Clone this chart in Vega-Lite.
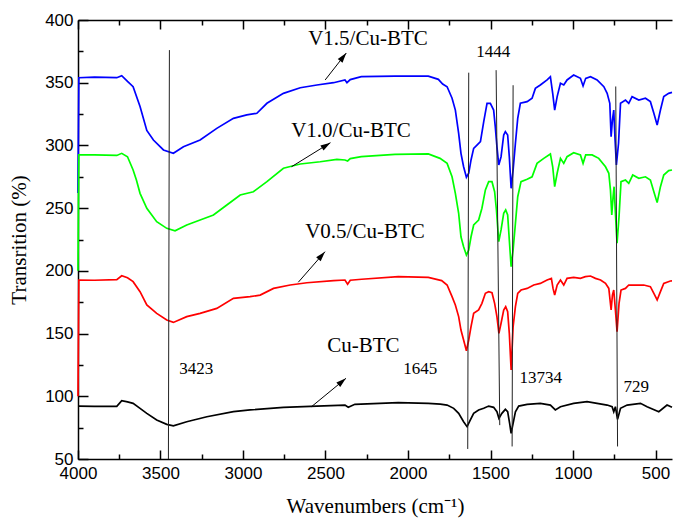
{
"$schema": "https://vega.github.io/schema/vega-lite/v6.json",
"width": 594, "height": 439,
"autosize": "none",
"padding": {"left": 78, "top": 20, "right": 1, "bottom": 63},
"background": "white",
"config": {
  "view": {"stroke": null},
  "axis": {"labelFont": "Liberation Sans", "labelFontSize": 17, "labelColor": "black", "labelFlush": false, "labelOverlap": false, "format": "d", "titleFont": "Liberation Serif", "titleFontSize": 21, "titleFontWeight": "normal", "titleColor": "black", "domainColor": "black", "domainWidth": 1.5, "tickColor": "black", "tickWidth": 1.5, "grid": false}
},
"datasets": {
  "spectra": [
    {"s":"V1.5/Cu-BTC","x":4000,"y":262},{"s":"V1.5/Cu-BTC","x":3995,"y":354},{"s":"V1.5/Cu-BTC","x":3900,"y":354.5},{"s":"V1.5/Cu-BTC","x":3765,"y":354},{"s":"V1.5/Cu-BTC","x":3735,"y":355.6},{"s":"V1.5/Cu-BTC","x":3700,"y":351},{"s":"V1.5/Cu-BTC","x":3666,"y":346.8},{"s":"V1.5/Cu-BTC","x":3624,"y":331},{"s":"V1.5/Cu-BTC","x":3583,"y":312},{"s":"V1.5/Cu-BTC","x":3543,"y":304.3},{"s":"V1.5/Cu-BTC","x":3482,"y":296.4},{"s":"V1.5/Cu-BTC","x":3422,"y":293.7},{"s":"V1.5/Cu-BTC","x":3361,"y":299},{"s":"V1.5/Cu-BTC","x":3260,"y":304.3},{"s":"V1.5/Cu-BTC","x":3159,"y":313.6},{"s":"V1.5/Cu-BTC","x":3058,"y":321.6},{"s":"V1.5/Cu-BTC","x":2977,"y":324.3},{"s":"V1.5/Cu-BTC","x":2916,"y":325.6},{"s":"V1.5/Cu-BTC","x":2855,"y":333.6},{"s":"V1.5/Cu-BTC","x":2755,"y":341.5},{"s":"V1.5/Cu-BTC","x":2653,"y":346},{"s":"V1.5/Cu-BTC","x":2552,"y":348.2},{"s":"V1.5/Cu-BTC","x":2451,"y":350},{"s":"V1.5/Cu-BTC","x":2382,"y":352.2},{"s":"V1.5/Cu-BTC","x":2370,"y":350},{"s":"V1.5/Cu-BTC","x":2350,"y":352.5},{"s":"V1.5/Cu-BTC","x":2283,"y":354.8},{"s":"V1.5/Cu-BTC","x":2079,"y":355.3},{"s":"V1.5/Cu-BTC","x":1877,"y":355.3},{"s":"V1.5/Cu-BTC","x":1816,"y":352.7},{"s":"V1.5/Cu-BTC","x":1790,"y":349},{"s":"V1.5/Cu-BTC","x":1763,"y":346.8},{"s":"V1.5/Cu-BTC","x":1733,"y":337.6},{"s":"V1.5/Cu-BTC","x":1713,"y":328.2},{"s":"V1.5/Cu-BTC","x":1693,"y":309.6},{"s":"V1.5/Cu-BTC","x":1679,"y":293.7},{"s":"V1.5/Cu-BTC","x":1663,"y":283},{"s":"V1.5/Cu-BTC","x":1646,"y":274.6},{"s":"V1.5/Cu-BTC","x":1632,"y":277.8},{"s":"V1.5/Cu-BTC","x":1618,"y":288.4},{"s":"V1.5/Cu-BTC","x":1602,"y":297.7},{"s":"V1.5/Cu-BTC","x":1582,"y":300.3},{"s":"V1.5/Cu-BTC","x":1561,"y":303},{"s":"V1.5/Cu-BTC","x":1541,"y":319},{"s":"V1.5/Cu-BTC","x":1521,"y":333.6},{"s":"V1.5/Cu-BTC","x":1501,"y":333.6},{"s":"V1.5/Cu-BTC","x":1481,"y":328.2},{"s":"V1.5/Cu-BTC","x":1471,"y":315},{"s":"V1.5/Cu-BTC","x":1461,"y":299},{"s":"V1.5/Cu-BTC","x":1450,"y":284.4},{"s":"V1.5/Cu-BTC","x":1436,"y":291},{"s":"V1.5/Cu-BTC","x":1420,"y":308.3},{"s":"V1.5/Cu-BTC","x":1410,"y":311},{"s":"V1.5/Cu-BTC","x":1396,"y":308.3},{"s":"V1.5/Cu-BTC","x":1386,"y":291},{"s":"V1.5/Cu-BTC","x":1375,"y":265.8},{"s":"V1.5/Cu-BTC","x":1363,"y":280.4},{"s":"V1.5/Cu-BTC","x":1349,"y":301.7},{"s":"V1.5/Cu-BTC","x":1335,"y":321.6},{"s":"V1.5/Cu-BTC","x":1319,"y":333.6},{"s":"V1.5/Cu-BTC","x":1278,"y":334.9},{"s":"V1.5/Cu-BTC","x":1248,"y":337.6},{"s":"V1.5/Cu-BTC","x":1228,"y":345.5},{"s":"V1.5/Cu-BTC","x":1198,"y":348.2},{"s":"V1.5/Cu-BTC","x":1157,"y":352.2},{"s":"V1.5/Cu-BTC","x":1137,"y":354.8},{"s":"V1.5/Cu-BTC","x":1123,"y":341.5},{"s":"V1.5/Cu-BTC","x":1111,"y":328.2},{"s":"V1.5/Cu-BTC","x":1096,"y":338.9},{"s":"V1.5/Cu-BTC","x":1076,"y":349.5},{"s":"V1.5/Cu-BTC","x":1056,"y":348.2},{"s":"V1.5/Cu-BTC","x":1036,"y":352.2},{"s":"V1.5/Cu-BTC","x":996,"y":356.1},{"s":"V1.5/Cu-BTC","x":955,"y":353.5},{"s":"V1.5/Cu-BTC","x":939,"y":347.4},{"s":"V1.5/Cu-BTC","x":923,"y":353.5},{"s":"V1.5/Cu-BTC","x":894,"y":354.8},{"s":"V1.5/Cu-BTC","x":854,"y":352.2},{"s":"V1.5/Cu-BTC","x":813,"y":346.8},{"s":"V1.5/Cu-BTC","x":793,"y":341.5},{"s":"V1.5/Cu-BTC","x":777,"y":333.6},{"s":"V1.5/Cu-BTC","x":769,"y":307},{"s":"V1.5/Cu-BTC","x":761,"y":320.3},{"s":"V1.5/Cu-BTC","x":753,"y":328.2},{"s":"V1.5/Cu-BTC","x":745,"y":304.3},{"s":"V1.5/Cu-BTC","x":737,"y":284.4},{"s":"V1.5/Cu-BTC","x":724,"y":301.7},{"s":"V1.5/Cu-BTC","x":712,"y":333.6},{"s":"V1.5/Cu-BTC","x":682,"y":336.2},{"s":"V1.5/Cu-BTC","x":662,"y":333.6},{"s":"V1.5/Cu-BTC","x":642,"y":338.9},{"s":"V1.5/Cu-BTC","x":601,"y":336.2},{"s":"V1.5/Cu-BTC","x":561,"y":337.6},{"s":"V1.5/Cu-BTC","x":531,"y":334.9},{"s":"V1.5/Cu-BTC","x":510,"y":325.6},{"s":"V1.5/Cu-BTC","x":490,"y":316.3},{"s":"V1.5/Cu-BTC","x":470,"y":328.2},{"s":"V1.5/Cu-BTC","x":450,"y":338.9},{"s":"V1.5/Cu-BTC","x":420,"y":341.5},{"s":"V1.5/Cu-BTC","x":400,"y":342.3},
    {"s":"V1.0/Cu-BTC","x":4000,"y":200},{"s":"V1.0/Cu-BTC","x":3995,"y":292.4},{"s":"V1.0/Cu-BTC","x":3900,"y":292.5},{"s":"V1.0/Cu-BTC","x":3765,"y":292},{"s":"V1.0/Cu-BTC","x":3735,"y":293.7},{"s":"V1.0/Cu-BTC","x":3700,"y":291},{"s":"V1.0/Cu-BTC","x":3666,"y":280.4},{"s":"V1.0/Cu-BTC","x":3646,"y":272.4},{"s":"V1.0/Cu-BTC","x":3624,"y":261.8},{"s":"V1.0/Cu-BTC","x":3583,"y":249.9},{"s":"V1.0/Cu-BTC","x":3523,"y":239.2},{"s":"V1.0/Cu-BTC","x":3462,"y":233.9},{"s":"V1.0/Cu-BTC","x":3412,"y":232},{"s":"V1.0/Cu-BTC","x":3341,"y":236.6},{"s":"V1.0/Cu-BTC","x":3260,"y":240.5},{"s":"V1.0/Cu-BTC","x":3179,"y":244.5},{"s":"V1.0/Cu-BTC","x":3098,"y":252.5},{"s":"V1.0/Cu-BTC","x":3017,"y":260.5},{"s":"V1.0/Cu-BTC","x":2937,"y":263.1},{"s":"V1.0/Cu-BTC","x":2855,"y":271.1},{"s":"V1.0/Cu-BTC","x":2755,"y":281.8},{"s":"V1.0/Cu-BTC","x":2653,"y":285.2},{"s":"V1.0/Cu-BTC","x":2532,"y":287},{"s":"V1.0/Cu-BTC","x":2431,"y":288.9},{"s":"V1.0/Cu-BTC","x":2382,"y":288.4},{"s":"V1.0/Cu-BTC","x":2366,"y":287.6},{"s":"V1.0/Cu-BTC","x":2350,"y":289.5},{"s":"V1.0/Cu-BTC","x":2283,"y":291},{"s":"V1.0/Cu-BTC","x":2079,"y":292.9},{"s":"V1.0/Cu-BTC","x":1877,"y":293.2},{"s":"V1.0/Cu-BTC","x":1806,"y":289.7},{"s":"V1.0/Cu-BTC","x":1763,"y":285.7},{"s":"V1.0/Cu-BTC","x":1733,"y":275},{"s":"V1.0/Cu-BTC","x":1713,"y":261.8},{"s":"V1.0/Cu-BTC","x":1693,"y":245.9},{"s":"V1.0/Cu-BTC","x":1679,"y":227.2},{"s":"V1.0/Cu-BTC","x":1663,"y":219.3},{"s":"V1.0/Cu-BTC","x":1646,"y":212.6},{"s":"V1.0/Cu-BTC","x":1632,"y":216.6},{"s":"V1.0/Cu-BTC","x":1618,"y":227.2},{"s":"V1.0/Cu-BTC","x":1602,"y":236.6},{"s":"V1.0/Cu-BTC","x":1572,"y":240.5},{"s":"V1.0/Cu-BTC","x":1552,"y":249.9},{"s":"V1.0/Cu-BTC","x":1531,"y":264.5},{"s":"V1.0/Cu-BTC","x":1511,"y":271.1},{"s":"V1.0/Cu-BTC","x":1491,"y":271.1},{"s":"V1.0/Cu-BTC","x":1475,"y":263.1},{"s":"V1.0/Cu-BTC","x":1464,"y":248.5},{"s":"V1.0/Cu-BTC","x":1450,"y":223.3},{"s":"V1.0/Cu-BTC","x":1436,"y":232.6},{"s":"V1.0/Cu-BTC","x":1420,"y":245.9},{"s":"V1.0/Cu-BTC","x":1408,"y":248.5},{"s":"V1.0/Cu-BTC","x":1396,"y":244.5},{"s":"V1.0/Cu-BTC","x":1386,"y":224.6},{"s":"V1.0/Cu-BTC","x":1375,"y":203.3},{"s":"V1.0/Cu-BTC","x":1363,"y":216.6},{"s":"V1.0/Cu-BTC","x":1349,"y":237.9},{"s":"V1.0/Cu-BTC","x":1335,"y":259.1},{"s":"V1.0/Cu-BTC","x":1315,"y":271.1},{"s":"V1.0/Cu-BTC","x":1278,"y":273},{"s":"V1.0/Cu-BTC","x":1248,"y":275},{"s":"V1.0/Cu-BTC","x":1218,"y":285.7},{"s":"V1.0/Cu-BTC","x":1177,"y":289.7},{"s":"V1.0/Cu-BTC","x":1137,"y":293.2},{"s":"V1.0/Cu-BTC","x":1123,"y":283},{"s":"V1.0/Cu-BTC","x":1111,"y":267.1},{"s":"V1.0/Cu-BTC","x":1096,"y":277.8},{"s":"V1.0/Cu-BTC","x":1076,"y":289.7},{"s":"V1.0/Cu-BTC","x":1056,"y":285.7},{"s":"V1.0/Cu-BTC","x":1036,"y":291},{"s":"V1.0/Cu-BTC","x":996,"y":294.2},{"s":"V1.0/Cu-BTC","x":955,"y":292.4},{"s":"V1.0/Cu-BTC","x":939,"y":285.7},{"s":"V1.0/Cu-BTC","x":923,"y":292.4},{"s":"V1.0/Cu-BTC","x":884,"y":292.4},{"s":"V1.0/Cu-BTC","x":844,"y":289.7},{"s":"V1.0/Cu-BTC","x":803,"y":283},{"s":"V1.0/Cu-BTC","x":783,"y":277.8},{"s":"V1.0/Cu-BTC","x":773,"y":264.5},{"s":"V1.0/Cu-BTC","x":765,"y":244.5},{"s":"V1.0/Cu-BTC","x":757,"y":259.1},{"s":"V1.0/Cu-BTC","x":751,"y":267.1},{"s":"V1.0/Cu-BTC","x":743,"y":245.9},{"s":"V1.0/Cu-BTC","x":733,"y":222},{"s":"V1.0/Cu-BTC","x":721,"y":243.2},{"s":"V1.0/Cu-BTC","x":709,"y":271.1},{"s":"V1.0/Cu-BTC","x":682,"y":272.4},{"s":"V1.0/Cu-BTC","x":662,"y":269.8},{"s":"V1.0/Cu-BTC","x":638,"y":276.4},{"s":"V1.0/Cu-BTC","x":601,"y":273.8},{"s":"V1.0/Cu-BTC","x":561,"y":275},{"s":"V1.0/Cu-BTC","x":531,"y":272.4},{"s":"V1.0/Cu-BTC","x":510,"y":263.1},{"s":"V1.0/Cu-BTC","x":490,"y":254.4},{"s":"V1.0/Cu-BTC","x":470,"y":267.1},{"s":"V1.0/Cu-BTC","x":450,"y":276.4},{"s":"V1.0/Cu-BTC","x":420,"y":279.9},{"s":"V1.0/Cu-BTC","x":400,"y":280.4},
    {"s":"V0.5/Cu-BTC","x":4000,"y":100},{"s":"V0.5/Cu-BTC","x":3995,"y":192.7},{"s":"V0.5/Cu-BTC","x":3900,"y":192.5},{"s":"V0.5/Cu-BTC","x":3765,"y":193},{"s":"V0.5/Cu-BTC","x":3735,"y":196.1},{"s":"V0.5/Cu-BTC","x":3700,"y":194.5},{"s":"V0.5/Cu-BTC","x":3666,"y":191.4},{"s":"V0.5/Cu-BTC","x":3624,"y":183.4},{"s":"V0.5/Cu-BTC","x":3583,"y":172.8},{"s":"V0.5/Cu-BTC","x":3523,"y":166.1},{"s":"V0.5/Cu-BTC","x":3462,"y":160.8},{"s":"V0.5/Cu-BTC","x":3422,"y":158.9},{"s":"V0.5/Cu-BTC","x":3341,"y":163.5},{"s":"V0.5/Cu-BTC","x":3260,"y":166.1},{"s":"V0.5/Cu-BTC","x":3159,"y":170.1},{"s":"V0.5/Cu-BTC","x":3058,"y":178.1},{"s":"V0.5/Cu-BTC","x":2957,"y":179.4},{"s":"V0.5/Cu-BTC","x":2896,"y":180.7},{"s":"V0.5/Cu-BTC","x":2815,"y":186},{"s":"V0.5/Cu-BTC","x":2714,"y":188.7},{"s":"V0.5/Cu-BTC","x":2613,"y":190.5},{"s":"V0.5/Cu-BTC","x":2451,"y":192.2},{"s":"V0.5/Cu-BTC","x":2382,"y":192.7},{"s":"V0.5/Cu-BTC","x":2366,"y":189.3},{"s":"V0.5/Cu-BTC","x":2350,"y":192.5},{"s":"V0.5/Cu-BTC","x":2281,"y":193.3},{"s":"V0.5/Cu-BTC","x":2059,"y":195.4},{"s":"V0.5/Cu-BTC","x":1877,"y":194.8},{"s":"V0.5/Cu-BTC","x":1796,"y":192.2},{"s":"V0.5/Cu-BTC","x":1763,"y":188.7},{"s":"V0.5/Cu-BTC","x":1733,"y":179.4},{"s":"V0.5/Cu-BTC","x":1713,"y":172.8},{"s":"V0.5/Cu-BTC","x":1693,"y":163.5},{"s":"V0.5/Cu-BTC","x":1679,"y":152.8},{"s":"V0.5/Cu-BTC","x":1663,"y":144.9},{"s":"V0.5/Cu-BTC","x":1646,"y":136.3},{"s":"V0.5/Cu-BTC","x":1632,"y":144.9},{"s":"V0.5/Cu-BTC","x":1618,"y":155.5},{"s":"V0.5/Cu-BTC","x":1602,"y":166.1},{"s":"V0.5/Cu-BTC","x":1572,"y":168.8},{"s":"V0.5/Cu-BTC","x":1552,"y":174.1},{"s":"V0.5/Cu-BTC","x":1531,"y":182.1},{"s":"V0.5/Cu-BTC","x":1511,"y":183.4},{"s":"V0.5/Cu-BTC","x":1491,"y":182.6},{"s":"V0.5/Cu-BTC","x":1475,"y":174.1},{"s":"V0.5/Cu-BTC","x":1461,"y":163.5},{"s":"V0.5/Cu-BTC","x":1449,"y":150.2},{"s":"V0.5/Cu-BTC","x":1436,"y":158.2},{"s":"V0.5/Cu-BTC","x":1420,"y":168.8},{"s":"V0.5/Cu-BTC","x":1408,"y":171.4},{"s":"V0.5/Cu-BTC","x":1396,"y":167.4},{"s":"V0.5/Cu-BTC","x":1386,"y":150.2},{"s":"V0.5/Cu-BTC","x":1375,"y":121},{"s":"V0.5/Cu-BTC","x":1363,"y":155.5},{"s":"V0.5/Cu-BTC","x":1349,"y":171.4},{"s":"V0.5/Cu-BTC","x":1335,"y":182.1},{"s":"V0.5/Cu-BTC","x":1315,"y":184.7},{"s":"V0.5/Cu-BTC","x":1278,"y":186},{"s":"V0.5/Cu-BTC","x":1238,"y":188.7},{"s":"V0.5/Cu-BTC","x":1198,"y":190},{"s":"V0.5/Cu-BTC","x":1157,"y":192.7},{"s":"V0.5/Cu-BTC","x":1131,"y":194},{"s":"V0.5/Cu-BTC","x":1121,"y":186},{"s":"V0.5/Cu-BTC","x":1111,"y":180.7},{"s":"V0.5/Cu-BTC","x":1096,"y":188.7},{"s":"V0.5/Cu-BTC","x":1076,"y":192.7},{"s":"V0.5/Cu-BTC","x":1056,"y":188.7},{"s":"V0.5/Cu-BTC","x":1036,"y":194},{"s":"V0.5/Cu-BTC","x":996,"y":194.8},{"s":"V0.5/Cu-BTC","x":955,"y":194},{"s":"V0.5/Cu-BTC","x":925,"y":195.4},{"s":"V0.5/Cu-BTC","x":894,"y":195.9},{"s":"V0.5/Cu-BTC","x":864,"y":194},{"s":"V0.5/Cu-BTC","x":833,"y":192.7},{"s":"V0.5/Cu-BTC","x":803,"y":190},{"s":"V0.5/Cu-BTC","x":783,"y":186},{"s":"V0.5/Cu-BTC","x":769,"y":168.8},{"s":"V0.5/Cu-BTC","x":761,"y":180.7},{"s":"V0.5/Cu-BTC","x":753,"y":184.7},{"s":"V0.5/Cu-BTC","x":743,"y":168.8},{"s":"V0.5/Cu-BTC","x":733,"y":151.5},{"s":"V0.5/Cu-BTC","x":721,"y":174.1},{"s":"V0.5/Cu-BTC","x":709,"y":184.7},{"s":"V0.5/Cu-BTC","x":682,"y":186},{"s":"V0.5/Cu-BTC","x":662,"y":188.7},{"s":"V0.5/Cu-BTC","x":632,"y":188.7},{"s":"V0.5/Cu-BTC","x":571,"y":188.7},{"s":"V0.5/Cu-BTC","x":531,"y":187.4},{"s":"V0.5/Cu-BTC","x":510,"y":182.1},{"s":"V0.5/Cu-BTC","x":490,"y":176.8},{"s":"V0.5/Cu-BTC","x":470,"y":183.4},{"s":"V0.5/Cu-BTC","x":450,"y":190},{"s":"V0.5/Cu-BTC","x":410,"y":191.9},{"s":"V0.5/Cu-BTC","x":400,"y":192},
    {"s":"Cu-BTC","x":4000,"y":92.2},{"s":"Cu-BTC","x":3900,"y":92},{"s":"Cu-BTC","x":3765,"y":92},{"s":"Cu-BTC","x":3735,"y":96.5},{"s":"Cu-BTC","x":3700,"y":95.5},{"s":"Cu-BTC","x":3666,"y":94.4},{"s":"Cu-BTC","x":3624,"y":90.4},{"s":"Cu-BTC","x":3583,"y":86.4},{"s":"Cu-BTC","x":3523,"y":81.1},{"s":"Cu-BTC","x":3462,"y":77.6},{"s":"Cu-BTC","x":3422,"y":76.5},{"s":"Cu-BTC","x":3341,"y":79.7},{"s":"Cu-BTC","x":3219,"y":83.7},{"s":"Cu-BTC","x":3058,"y":87.7},{"s":"Cu-BTC","x":2957,"y":89.1},{"s":"Cu-BTC","x":2755,"y":91.2},{"s":"Cu-BTC","x":2552,"y":92.2},{"s":"Cu-BTC","x":2382,"y":93},{"s":"Cu-BTC","x":2362,"y":91.2},{"s":"Cu-BTC","x":2322,"y":93.6},{"s":"Cu-BTC","x":2059,"y":94.9},{"s":"Cu-BTC","x":1877,"y":94.4},{"s":"Cu-BTC","x":1804,"y":93.8},{"s":"Cu-BTC","x":1763,"y":93},{"s":"Cu-BTC","x":1723,"y":90.4},{"s":"Cu-BTC","x":1693,"y":86.4},{"s":"Cu-BTC","x":1663,"y":79.7},{"s":"Cu-BTC","x":1642,"y":75.8},{"s":"Cu-BTC","x":1622,"y":81.1},{"s":"Cu-BTC","x":1602,"y":86.4},{"s":"Cu-BTC","x":1572,"y":89.1},{"s":"Cu-BTC","x":1541,"y":90.4},{"s":"Cu-BTC","x":1511,"y":92.2},{"s":"Cu-BTC","x":1481,"y":91.2},{"s":"Cu-BTC","x":1461,"y":87.7},{"s":"Cu-BTC","x":1449,"y":82.4},{"s":"Cu-BTC","x":1431,"y":86.4},{"s":"Cu-BTC","x":1410,"y":89.6},{"s":"Cu-BTC","x":1396,"y":87.7},{"s":"Cu-BTC","x":1384,"y":78.4},{"s":"Cu-BTC","x":1375,"y":70.4},{"s":"Cu-BTC","x":1363,"y":78.4},{"s":"Cu-BTC","x":1349,"y":87.7},{"s":"Cu-BTC","x":1329,"y":92.2},{"s":"Cu-BTC","x":1278,"y":93.6},{"s":"Cu-BTC","x":1198,"y":94.4},{"s":"Cu-BTC","x":1137,"y":93},{"s":"Cu-BTC","x":1107,"y":89.1},{"s":"Cu-BTC","x":1076,"y":91.7},{"s":"Cu-BTC","x":996,"y":94.4},{"s":"Cu-BTC","x":915,"y":95.7},{"s":"Cu-BTC","x":854,"y":94.4},{"s":"Cu-BTC","x":793,"y":93},{"s":"Cu-BTC","x":763,"y":91.7},{"s":"Cu-BTC","x":753,"y":87.7},{"s":"Cu-BTC","x":743,"y":91.7},{"s":"Cu-BTC","x":730,"y":81.6},{"s":"Cu-BTC","x":712,"y":90.4},{"s":"Cu-BTC","x":672,"y":93},{"s":"Cu-BTC","x":591,"y":94.4},{"s":"Cu-BTC","x":551,"y":91.7},{"s":"Cu-BTC","x":480,"y":87.7},{"s":"Cu-BTC","x":430,"y":93},{"s":"Cu-BTC","x":400,"y":91.2}
  ],
  "refs": [
    {"x":3446,"y":376,"x2":3452,"y2":50},
    {"x":1632,"y":358,"x2":1638,"y2":58},
    {"x":1466,"y":360,"x2":1444,"y2":77},
    {"x":1363,"y":348,"x2":1369,"y2":60},
    {"x":741,"y":347,"x2":730,"y2":60}
  ],
  "arrows": [
    {"name":"V1.5","x":2502,"y":352.2,"xe":2374,"ye":373.7},
    {"name":"V1.0","x":2706,"y":283,"xe":2470,"ye":302.2},
    {"name":"V0.5","x":2665,"y":190.9,"xe":2503,"ye":215.3},
    {"name":"Cu","x":2585,"y":91.7,"xe":2376,"ye":114.3}
  ],
  "labels": [
    {"t":"V1.5/Cu-BTC","x":2605,"y":380},
    {"t":"V1.0/Cu-BTC","x":2708,"y":306.7},
    {"t":"V0.5/Cu-BTC","x":2623,"y":226.2},
    {"t":"Cu-BTC","x":2490,"y":135.3}
  ],
  "nums": [
    {"t":"1444","x":1586,"y":370.5},
    {"t":"3423","x":3387,"y":117.8},
    {"t":"1645","x":2029,"y":117.8},
    {"t":"13734","x":1325,"y":110.6},
    {"t":"729","x":694,"y":103.4}
  ]
},
"layer": [
  {
    "data": {"name": "spectra"},
    "mark": {"type": "line", "strokeWidth": 1.7},
    "encoding": {
      "x": {"field": "x", "type": "quantitative", "scale": {"domain": [400, 4000], "reverse": true, "nice": false, "zero": false},
            "axis": {"orient": "bottom", "values": [4000,3500,3000,2500,2000,1500,1000,500], "tickSize": -9, "labelPadding": 15, "title": "Wavenumbers (cm⁻¹)", "titlePadding": 14}},
      "y": {"field": "y", "type": "quantitative", "scale": {"domain": [50, 400], "nice": false, "zero": false},
            "axis": {"orient": "left", "values": [50,100,150,200,250,300,350,400], "tickSize": -10, "labelPadding": 15, "title": "Transrition (%)", "titlePadding": 15}},
      "color": {"field": "s", "type": "nominal", "legend": null,
                "scale": {"domain": ["Cu-BTC","V0.5/Cu-BTC","V1.0/Cu-BTC","V1.5/Cu-BTC"], "range": ["#000000","#ff0000","#00ff00","#0000ff"]}}
    }
  },
  {
    "data": {"name": "refs"},
    "mark": {"type": "rule", "color": "#222222", "strokeWidth": 1},
    "encoding": {
      "x": {"field": "x", "type": "quantitative", "axis": {"orient": "bottom", "values": [3750,3250,2750,2250,1750,1250,750], "tickSize": -5, "labels": false, "domain": false, "title": null}},
      "x2": {"field": "x2"},
      "y": {"field": "y", "type": "quantitative", "axis": {"orient": "left", "values": [75,125,175,225,275,325,375], "tickSize": -5, "labels": false, "domain": false, "title": null}},
      "y2": {"field": "y2"}
    }
  },
  {
    "data": {"name": "arrows"},
    "mark": {"type": "rule", "color": "black", "strokeWidth": 1},
    "encoding": {
      "x": {"field": "x", "type": "quantitative", "axis": {"orient": "top", "values": [4000,3500,3000,2500,2000,1500,1000,500], "tickSize": -9, "labels": false, "domain": true, "title": null}},
      "x2": {"field": "xe"},
      "y": {"field": "y", "type": "quantitative", "axis": null},
      "y2": {"field": "ye"}
    }
  },
  {
    "data": {"name": "labels"},
    "mark": {"type": "text", "font": "Liberation Serif", "fontSize": 21, "align": "left", "baseline": "alphabetic", "color": "black"},
    "encoding": {
      "x": {"field": "x", "type": "quantitative", "axis": {"orient": "top", "values": [3750,3250,2750,2250,1750,1250,750], "tickSize": -5, "labels": false, "domain": false, "title": null}},
      "y": {"field": "y", "type": "quantitative", "axis": null},
      "text": {"field": "t"}
    }
  },
  {
    "data": {"name": "nums"},
    "mark": {"type": "text", "font": "Liberation Serif", "fontSize": 17, "align": "left", "baseline": "alphabetic", "color": "black"},
    "encoding": {
      "x": {"field": "x", "type": "quantitative", "axis": null},
      "y": {"field": "y", "type": "quantitative", "axis": null},
      "text": {"field": "t"}
    }
  },
  {
    "data": {"name": "arrows"},
    "transform": [{"filter": "datum.name == 'V1.5'"}],
    "mark": {"type": "point", "shape": "M0,0L-0.3,1L0.3,1Z", "size": 400, "filled": true, "color": "black", "opacity": 1, "angle": 38},
    "encoding": {"x": {"field": "xe", "type": "quantitative", "axis": null}, "y": {"field": "ye", "type": "quantitative", "axis": null}}
  },
  {
    "data": {"name": "arrows"},
    "transform": [{"filter": "datum.name == 'V1.0'"}],
    "mark": {"type": "point", "shape": "M0,0L-0.3,1L0.3,1Z", "size": 400, "filled": true, "color": "black", "opacity": 1, "angle": 58},
    "encoding": {"x": {"field": "xe", "type": "quantitative", "axis": null}, "y": {"field": "ye", "type": "quantitative", "axis": null}}
  },
  {
    "data": {"name": "arrows"},
    "transform": [{"filter": "datum.name == 'V0.5'"}],
    "mark": {"type": "point", "shape": "M0,0L-0.3,1L0.3,1Z", "size": 400, "filled": true, "color": "black", "opacity": 1, "angle": 41},
    "encoding": {"x": {"field": "xe", "type": "quantitative", "axis": null}, "y": {"field": "ye", "type": "quantitative", "axis": null}}
  },
  {
    "data": {"name": "arrows"},
    "transform": [{"filter": "datum.name == 'Cu'"}],
    "mark": {"type": "point", "shape": "M0,0L-0.3,1L0.3,1Z", "size": 400, "filled": true, "color": "black", "opacity": 1, "angle": 50},
    "encoding": {"x": {"field": "xe", "type": "quantitative", "axis": null}, "y": {"field": "ye", "type": "quantitative", "axis": null}}
  }
],
"resolve": {"axis": {"x": "independent", "y": "independent"}}
}
